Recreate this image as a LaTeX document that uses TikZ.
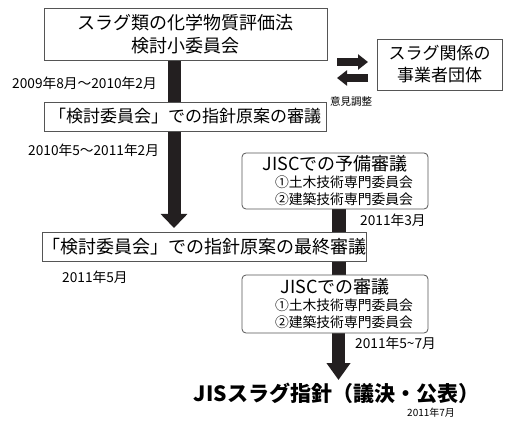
\documentclass[tikz,border=0pt]{standalone}
\usepackage{fontspec}
\setmainfont{Noto Sans CJK JP}
\usetikzlibrary{arrows.meta}
\definecolor{barc}{HTML}{231F20}
\definecolor{linec}{HTML}{555555}
\tikzset{
  sqbox/.style={draw=linec, line width=0.8pt, fill=white, inner sep=0pt, align=center},
  rbox/.style={sqbox, rounded corners=4pt, font=\fontsize{13.8}{17}\selectfont},
  datel/.style={anchor=west, inner sep=0pt, font=\fontsize{13.7}{14}\selectfont},
  bigbar/.style={draw=barc, line width=14pt},
  bigarrow/.style={draw=barc, line width=13pt, -{Triangle[width=26pt,length=14pt]}},
  harrow/.style={draw=barc, line width=8pt, -{Triangle[width=15pt,length=10pt]}},
}
\begin{document}
\begin{tikzpicture}[x=1pt,y=-1pt]
\useasboundingbox (0,0) rectangle (505,427);
% coordinates for connector ends
\coordinate (m1) at (174,60);
\coordinate (m2) at (174,228);
\coordinate (s1) at (338.5,209);
\coordinate (s2) at (338.5,232);
\coordinate (s3) at (338.5,261);
\coordinate (s4) at (338.5,275);
\coordinate (s5) at (338.5,333);
\coordinate (s6) at (338.5,380);
\coordinate (ha) at (337,62);
\coordinate (hb) at (368,62);
\coordinate (hc) at (368,78);
\coordinate (hd) at (337,78);
% connectors (drawn below boxes)
\draw[bigarrow] (m1) -- (m2);
\draw[bigbar] (s1) -- (s2);
\draw[bigbar] (s3) -- (s4);
\draw[bigarrow, -{Triangle[width=23pt,length=17pt]}] (s5) -- (s6);
\draw[harrow] (ha) -- (hb);
\draw[harrow] (hc) -- (hd);
% boxes
\node[sqbox, minimum width=283pt, minimum height=52pt, font=\fontsize{18}{23}\selectfont] (b1) at (185.5,34) {スラグ類の化学物質評価法\\検討小委員会};
\node[sqbox, minimum width=125pt, minimum height=51pt, font=\fontsize{17}{22}\selectfont] (b4) at (439.5,64.5) {スラグ関係の\\事業者団体};
\node[sqbox, minimum width=282pt, minimum height=29pt, font=\fontsize{17}{20}\selectfont] (b2) at (185,116.5) {「検討委員会」での指針原案の審議};
\node[rbox, minimum width=186pt, minimum height=56pt] (j1) at (335,181) {{\fontsize{18}{17}\selectfont JISCでの予備審議}\\\hspace*{18pt}①土木技術専門委員会\\\hspace*{18pt}②建築技術専門委員会};
\node[sqbox, minimum width=321pt, minimum height=29pt, font=\fontsize{18}{20}\selectfont] (b3) at (204.5,246.5) {「検討委員会」での指針原案の最終審議};
\node[rbox, minimum width=186pt, minimum height=58pt] (j2) at (335,304) {{\fontsize{18}{17}\selectfont JISCでの審議}\\\hspace*{18pt}①土木技術専門委員会\\\hspace*{18pt}②建築技術専門委員会};
% final
\node[inner sep=0pt, font=\fontsize{21}{24}\selectfont\bfseries] (fin) at (336.5,393) {JISスラグ指針（議決・公表）};
% labels
\node[datel] (d1) at (12,83) {2009年8月～2010年2月};
\node[datel] (d2) at (28,150) {2010年5～2011年2月};
\node[datel] (d3) at (360,220) {2011年3月};
\node[datel] (d4) at (62,277) {2011年5月};
\node[datel] (d5) at (355,343) {2011年5\textasciitilde 7月};
\node[datel, font=\fontsize{10}{11}\selectfont] (d6) at (407,413) {2011年7月};
\node[datel, font=\fontsize{10.5}{11}\selectfont] (ik) at (330,102) {意見調整};
\end{tikzpicture}
\end{document}
